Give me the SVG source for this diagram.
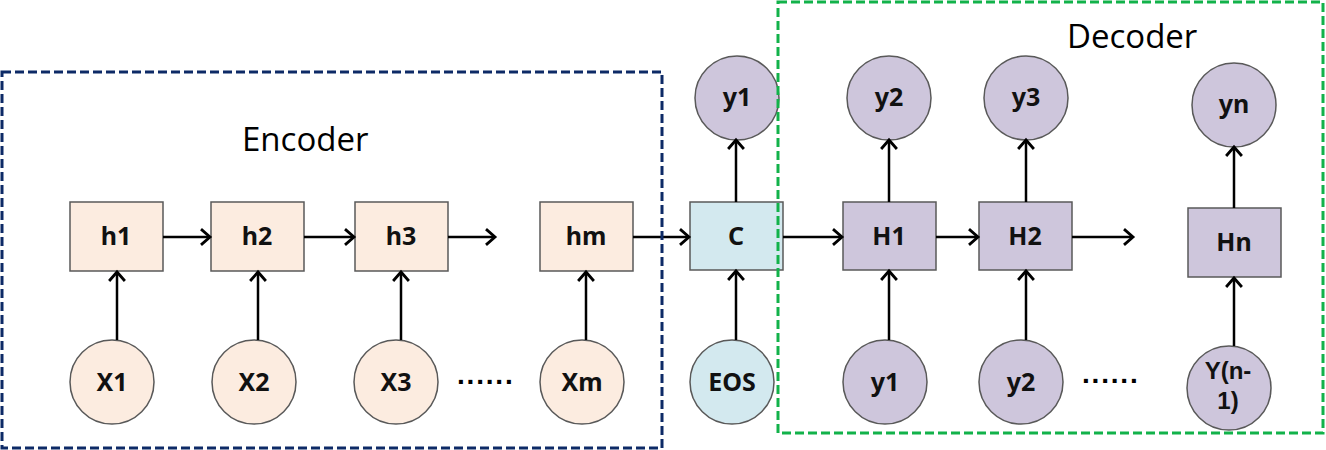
<svg xmlns="http://www.w3.org/2000/svg" width="1326" height="450" viewBox="0 0 1326 450">
<style>
.enc{fill:#fcece0;stroke:#595959;stroke-width:1.5}
.ctx{fill:#d3e9ef;stroke:#595959;stroke-width:1.5}
.dec{fill:#cec6dc;stroke:#595959;stroke-width:1.5}
.lbl{font-family:"Noto Sans","Liberation Sans",sans-serif;font-weight:bold;font-size:25px;fill:#111;text-anchor:middle}
.lbl2{font-family:"Liberation Sans",sans-serif;font-weight:bold;font-size:24px;fill:#111;text-anchor:middle}
.title{font-family:"Open Sans","Liberation Sans",sans-serif;font-size:33px;fill:#000}
.dots{font-family:"Liberation Sans",sans-serif;font-weight:bold;font-size:28px;fill:#000;letter-spacing:1.8px}
.conn line{stroke:#000;stroke-width:2.5;marker-end:url(#arr)}
</style>
<defs>
<marker id="arr" markerUnits="userSpaceOnUse" markerWidth="16" markerHeight="18" viewBox="-10 -8 12 16" refX="0" refY="0" orient="auto">
<path d="M-8,-7 L0,0 L-8,7" fill="none" stroke="#000" stroke-width="2.5"/>
</marker>
</defs>
<rect width="1326" height="450" fill="#fff"/>

<g id="h1"><rect class="enc" x="70" y="202" width="93" height="69"/><text class="lbl" x="116" y="245">h1</text></g>
<g id="h2"><rect class="enc" x="211" y="202" width="93" height="69"/><text class="lbl" x="257" y="245">h2</text></g>
<g id="h3"><rect class="enc" x="355" y="202" width="93" height="69"/><text class="lbl" x="401" y="245">h3</text></g>
<g id="hm"><rect class="enc" x="540" y="202" width="93" height="69"/><text class="lbl" x="586" y="245">hm</text></g>
<g id="C"><rect class="ctx" x="690" y="202" width="93" height="68"/><text class="lbl" x="736" y="245">C</text></g>
<g id="H1"><rect class="dec" x="843" y="202" width="93" height="68"/><text class="lbl" x="889" y="245">H1</text></g>
<g id="H2"><rect class="dec" x="979" y="202" width="93" height="68"/><text class="lbl" x="1025" y="245">H2</text></g>
<g id="Hn"><rect class="dec" x="1188" y="208" width="93" height="69"/><text class="lbl" x="1234" y="251">Hn</text></g>

<g id="X1"><circle class="enc" cx="112" cy="382" r="42"/><text class="lbl" x="112" y="391">X1</text></g>
<g id="X2"><circle class="enc" cx="254" cy="382" r="42"/><text class="lbl" x="254" y="391">X2</text></g>
<g id="X3"><circle class="enc" cx="396" cy="382" r="42"/><text class="lbl" x="396" y="391">X3</text></g>
<g id="Xm"><circle class="enc" cx="582" cy="382" r="42"/><text class="lbl" x="582" y="391">Xm</text></g>
<g id="EOS"><circle class="ctx" cx="732" cy="382" r="42"/><text class="lbl" x="732" y="391">EOS</text></g>
<g id="y1top"><circle class="dec" cx="737" cy="98" r="42"/><text class="lbl" x="737" y="106">y1</text></g>
<g id="y2top"><circle class="dec" cx="889" cy="98" r="42"/><text class="lbl" x="889" y="106">y2</text></g>
<g id="y3top"><circle class="dec" cx="1026" cy="98" r="42"/><text class="lbl" x="1026" y="106">y3</text></g>
<g id="yn"><circle class="dec" cx="1234" cy="105" r="42"/><text class="lbl" x="1234" y="113">yn</text></g>
<g id="y1bot"><circle class="dec" cx="885" cy="382" r="42"/><text class="lbl" x="885" y="391">y1</text></g>
<g id="y2bot"><circle class="dec" cx="1021" cy="382" r="42"/><text class="lbl" x="1021" y="391">y2</text></g>
<g id="Yn1"><circle class="dec" cx="1229" cy="388" r="42"/><text class="lbl2" x="1228" y="379">Y(n-</text><text class="lbl2" x="1228" y="409">1)</text></g>

<text class="dots" x="457" y="384">......</text>
<text class="dots" x="1082" y="383">......</text>

<g id="connectors" class="conn">
<line x1="163" y1="237" x2="210" y2="237"/>
<line x1="304" y1="237" x2="354" y2="237"/>
<line x1="448" y1="237" x2="495" y2="237"/>
<line x1="633" y1="237" x2="689" y2="237"/>
<line x1="783" y1="237" x2="842" y2="237"/>
<line x1="936" y1="237" x2="978" y2="237"/>
<line x1="1072" y1="237" x2="1133" y2="237"/>
<line x1="117" y1="340" x2="117" y2="272"/>
<line x1="258" y1="340" x2="258" y2="272"/>
<line x1="401" y1="340" x2="401" y2="272"/>
<line x1="586" y1="340" x2="586" y2="272"/>
<line x1="736" y1="340" x2="736" y2="271"/>
<line x1="736" y1="202" x2="736" y2="140"/>
<line x1="889" y1="202" x2="889" y2="140"/>
<line x1="1026" y1="202" x2="1026" y2="140"/>
<line x1="889" y1="340" x2="889" y2="271"/>
<line x1="1026" y1="340" x2="1026" y2="271"/>
<line x1="1234" y1="346" x2="1234" y2="278"/>
<line x1="1234" y1="208" x2="1234" y2="147"/>
</g>

<g id="encoder">
<rect x="2" y="72" width="660" height="376" fill="none" stroke="#0d2a66" stroke-width="3" stroke-dasharray="9,4"/>
<text class="title" x="242" y="151">Encoder</text>
</g>
<g id="decoder">
<rect x="778" y="2" width="545" height="431" fill="none" stroke="#12b24a" stroke-width="3" stroke-dasharray="9,4"/>
<text class="title" x="1067" y="48">Decoder</text>
</g>
</svg>
